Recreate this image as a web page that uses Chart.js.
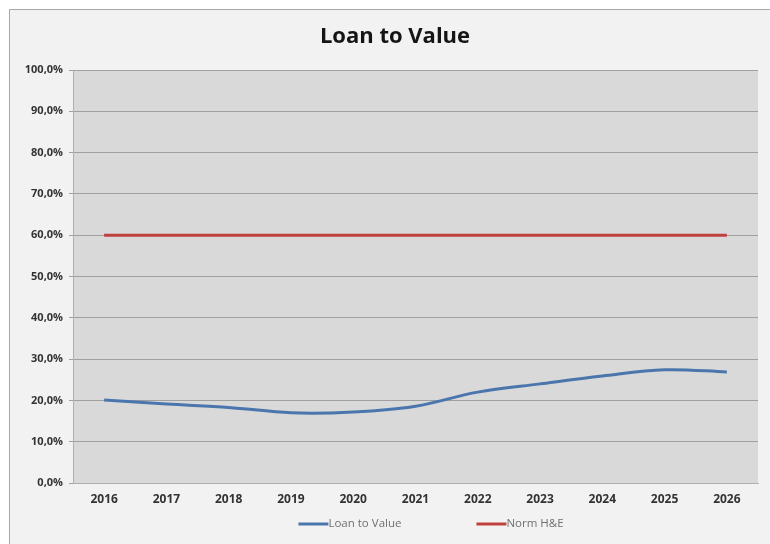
<!DOCTYPE html>
<html>
<head>
<meta charset="utf-8">
<script src="https://cdn.jsdelivr.net/npm/chart.js@4"></script>
<style>
  html, body { margin: 0; padding: 0; background: #ffffff; }
  #wrap { position: relative; width: 770px; height: 544px; }
</style>
</head>
<body>
<div id="wrap"><canvas id="ltv-chart" width="770" height="544"></canvas></div>
<script>
// data
const years = ['2016', '2017', '2018', '2019', '2020', '2021', '2022', '2023', '2024', '2025', '2026'];
const loanToValue = [20.1, 19.1, 18.3, 17.0, 17.2, 18.6, 22.0, 24.0, 25.9, 27.4, 26.9];
const normHE = [60, 60, 60, 60, 60, 60, 60, 60, 60, 60, 60];
const yTicks = [0, 10, 20, 30, 40, 50, 60, 70, 80, 90, 100];
const chartTitle = 'Loan to Value';

const fontFamily = "'Open Sans', 'Liberation Sans', sans-serif";

// outer frame, grey plot area, title and an Excel-like legend
const framePlugin = {
    id: 'frame',
    beforeDraw(chart) {
        const c = chart.ctx;
        const a = chart.chartArea;
        c.save();
        c.fillStyle = '#ffffff';
        c.fillRect(0, 0, chart.width, chart.height);
        c.fillStyle = '#f2f2f2';
        c.fillRect(9, 9, chart.width - 9, chart.height - 9);
        c.strokeStyle = '#a8a8a8';
        c.lineWidth = 1;
        c.strokeRect(9.5, 9.5, chart.width - 9, chart.height - 9);
        c.fillStyle = '#d9d9d9';
        c.fillRect(a.left, a.top, a.right - a.left, a.bottom - a.top);

        // title
        c.fillStyle = '#151515';
        c.font = 'bold 22px ' + fontFamily;
        c.textAlign = 'center';
        c.textBaseline = 'middle';
        c.fillText(chartTitle, 395, 37);
        c.restore();
    },
    afterDraw(chart) {
        const c = chart.ctx;
        const sets = chart.data.datasets;
        const lineLen = 30, gap = 75, y = 524;
        c.save();
        c.font = '11.5px ' + fontFamily;
        c.textBaseline = 'middle';
        c.textAlign = 'left';
        const widths = sets.map(d => lineLen + c.measureText(d.label).width);
        const total = widths.reduce((s, w) => s + w, 0) + gap * (sets.length - 1);
        let x = 431 - total / 2;
        sets.forEach((d, i) => {
            c.strokeStyle = d.borderColor;
            c.lineWidth = 3;
            c.beginPath();
            c.moveTo(x, y);
            c.lineTo(x + lineLen, y);
            c.stroke();
            c.fillStyle = '#707070';
            c.fillText(d.label, x + lineLen, y);
            x += widths[i] + gap;
        });
        c.restore();
    }
};

new Chart(document.getElementById('ltv-chart').getContext('2d'), {
    type: 'line',
    data: {
        labels: years,
        datasets: [
            {
                label: 'Loan to Value',
                data: loanToValue,
                borderColor: '#4a76ad',
                backgroundColor: '#4a76ad',
                borderWidth: 3,
                pointRadius: 0,
                tension: 0.35
            },
            {
                label: 'Norm H&E',
                data: normHE,
                borderColor: '#c0403d',
                backgroundColor: '#c0403d',
                borderWidth: 3,
                pointRadius: 0
            }
        ]
    },
    options: {
        responsive: false,
        animation: false,
        layout: { padding: { left: 0, right: 12, top: 70, bottom: 0 } },
        plugins: {
            title: { display: false },
            legend: { display: false },
            tooltip: { enabled: false }
        },
        scales: {
            x: {
                offset: true,
                afterFit(scale) { scale.height = 61; },
                grid: { display: false },
                border: { color: '#b0b0b0' },
                ticks: {
                    color: '#333333',
                    padding: 1,
                    font: { family: fontFamily, size: 12, weight: 'bold' }
                }
            },
            y: {
                min: 0,
                max: 100,
                afterFit(scale) { scale.width = 73; },
                afterBuildTicks(scale) { scale.ticks = yTicks.map(v => ({ value: v })); },
                grid: { color: '#a0a0a0', tickLength: 4 },
                border: { color: '#b0b0b0' },
                ticks: {
                    color: '#333333',
                    padding: 6,
                    font: { family: fontFamily, size: 11, weight: 'bold' },
                    callback: v => v.toFixed(1).replace('.', ',') + '%'
                }
            }
        }
    },
    plugins: [framePlugin]
});
</script>
</body>
</html>
